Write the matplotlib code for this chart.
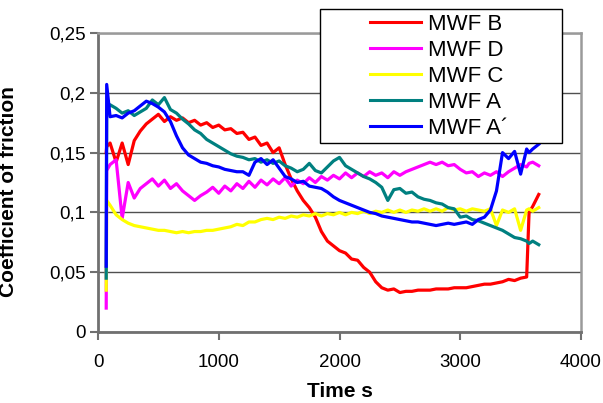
import matplotlib
matplotlib.use("Agg")
import matplotlib.pyplot as plt
from matplotlib.patches import Rectangle

plt.rcParams["font.family"] = ["Liberation Sans", "DejaVu Sans"]

# sample times (s)
time_s = [
    68, 72, 100, 150, 200, 250, 300, 350, 400, 450,
    500, 550, 600, 650, 700, 750, 800, 850, 900, 950,
    1000, 1050, 1100, 1150, 1200, 1250, 1300, 1350, 1400, 1450,
    1500, 1550, 1600, 1650, 1700, 1750, 1800, 1850, 1900, 1950,
    2000, 2050, 2100, 2150, 2200, 2250, 2300, 2350, 2400, 2450,
    2500, 2550, 2600, 2650, 2700, 2750, 2800, 2850, 2900, 2950,
    3000, 3050, 3100, 3150, 3200, 3250, 3300, 3350, 3400, 3450,
    3500, 3550, 3570, 3600, 3650,
]

mwf_b = [
    0.150, 0.155, 0.158, 0.142, 0.158, 0.140, 0.160, 0.168, 0.174, 0.178,
    0.182, 0.176, 0.180, 0.177, 0.179, 0.175, 0.177, 0.173, 0.175, 0.171,
    0.173, 0.169, 0.170, 0.166, 0.167, 0.161, 0.163, 0.156, 0.158, 0.150,
    0.154, 0.140, 0.128, 0.118, 0.110, 0.104, 0.096, 0.084, 0.076, 0.072,
    0.068, 0.066, 0.061, 0.060, 0.054, 0.050, 0.042, 0.037, 0.035, 0.036,
    0.033, 0.034, 0.034, 0.035, 0.035, 0.035, 0.036, 0.036, 0.036, 0.037,
    0.037, 0.037, 0.038, 0.039, 0.040, 0.040, 0.041, 0.042, 0.044, 0.043,
    0.045, 0.046, 0.100, 0.105, 0.115,
]

mwf_d = [
    0.020, 0.135, 0.140, 0.144, 0.095, 0.125, 0.112, 0.120, 0.124, 0.128,
    0.122, 0.127, 0.120, 0.124, 0.118, 0.114, 0.110, 0.114, 0.117, 0.121,
    0.116, 0.122, 0.118, 0.124, 0.120, 0.126, 0.121, 0.127, 0.123, 0.128,
    0.124, 0.129, 0.122, 0.127, 0.124, 0.129, 0.125, 0.130, 0.127, 0.131,
    0.128, 0.133, 0.129, 0.133, 0.130, 0.134, 0.131, 0.133, 0.129, 0.134,
    0.131, 0.134, 0.136, 0.138, 0.140, 0.142, 0.140, 0.142, 0.139, 0.140,
    0.136, 0.133, 0.134, 0.130, 0.133, 0.131, 0.134, 0.130, 0.134, 0.137,
    0.140, 0.138, 0.141, 0.142, 0.139,
]

mwf_c = [
    0.035, 0.110, 0.106, 0.098, 0.094, 0.091, 0.089, 0.088, 0.087, 0.086,
    0.085, 0.085, 0.084, 0.083, 0.084, 0.083, 0.084, 0.084, 0.085, 0.085,
    0.086, 0.087, 0.088, 0.090, 0.089, 0.092, 0.092, 0.094, 0.095, 0.094,
    0.096, 0.095, 0.097, 0.096, 0.098, 0.097, 0.099, 0.097, 0.099, 0.098,
    0.100, 0.098, 0.100, 0.099, 0.101, 0.099, 0.101, 0.100, 0.102, 0.100,
    0.102, 0.100, 0.102, 0.101, 0.103, 0.101, 0.103, 0.101, 0.104, 0.102,
    0.103, 0.101, 0.103, 0.102, 0.101, 0.103, 0.089, 0.102, 0.100, 0.103,
    0.085, 0.102, 0.103, 0.101, 0.104,
]

mwf_a = [
    0.045, 0.185, 0.190, 0.187, 0.183, 0.185, 0.181, 0.184, 0.187, 0.194,
    0.190, 0.196, 0.186, 0.183, 0.178, 0.174, 0.169, 0.166, 0.161, 0.158,
    0.155, 0.152, 0.149, 0.147, 0.146, 0.144, 0.145, 0.142, 0.144, 0.141,
    0.143, 0.139, 0.137, 0.134, 0.136, 0.141, 0.135, 0.133, 0.138, 0.143,
    0.146, 0.139, 0.136, 0.133, 0.130, 0.128, 0.125, 0.121, 0.110, 0.119,
    0.120, 0.116, 0.117, 0.113, 0.111, 0.110, 0.108, 0.107, 0.104, 0.103,
    0.096, 0.097, 0.094, 0.093, 0.091, 0.089, 0.087, 0.085, 0.082, 0.079,
    0.078, 0.076, 0.074, 0.076, 0.073,
]

mwf_a2 = [
    0.055, 0.207, 0.180, 0.181, 0.179, 0.183, 0.185, 0.189, 0.193, 0.191,
    0.188, 0.184, 0.176, 0.164, 0.154, 0.148, 0.145, 0.142, 0.141, 0.139,
    0.138, 0.136, 0.135, 0.134, 0.134, 0.131, 0.142, 0.145, 0.140, 0.144,
    0.137, 0.130, 0.128, 0.125, 0.126, 0.122, 0.121, 0.120, 0.117, 0.113,
    0.110, 0.108, 0.106, 0.104, 0.102, 0.100, 0.099, 0.097, 0.096, 0.095,
    0.094, 0.093, 0.092, 0.092, 0.091, 0.090, 0.089, 0.090, 0.091, 0.090,
    0.091, 0.092, 0.090, 0.094, 0.096, 0.102, 0.118, 0.150, 0.145, 0.151,
    0.132, 0.153, 0.150, 0.153, 0.157,
]

series_labels = ["MWF B", "MWF D", "MWF C", "MWF A", "MWF A\u00b4"]
series_colors = ["#ff0000", "#ff00ff", "#ffff00", "#008080", "#0000ff"]
y_ticks = [0, 0.05, 0.1, 0.15, 0.2, 0.25]
y_tick_labels = ["0", "0,05", "0,1", "0,15", "0,2", "0,25"]
x_ticks = [0, 1000, 2000, 3000, 4000]

fig = plt.figure(figsize=(6.03, 4.03), dpi=100)
ax = fig.add_axes([98 / 603, 1 - 332 / 403, 483 / 603, 299 / 403])

for values, label, color in zip(
    [mwf_b, mwf_d, mwf_c, mwf_a, mwf_a2], series_labels, series_colors
):
    ax.plot(time_s, values, color=color, lw=2.3, label=label, solid_joinstyle="round")

ax.set_xlim(0, 4000)
ax.set_ylim(0, 0.25)
ax.set_xticks(x_ticks)
ax.set_yticks(y_ticks)
ax.set_yticklabels(y_tick_labels)
ax.yaxis.grid(True, color="#505050", lw=1.0)
ax.set_axisbelow(True)

for side in ["left", "bottom"]:
    ax.spines[side].set_color("#707070")
    ax.spines[side].set_linewidth(2.0)
for side in ["top", "right"]:
    ax.spines[side].set_color("#9a9a9a")
    ax.spines[side].set_linewidth(1.8)

ax.tick_params(axis="y", direction="out", length=6, width=1.5, color="#707070",
               labelsize=13.5, pad=3)
ax.tick_params(axis="x", direction="out", length=6, width=1.5, color="#707070",
               labelsize=13.5, pad=10)

ax.set_xlabel("Time s", fontsize=15, fontweight="bold", labelpad=8)
ax.set_ylabel("Coefficient of friction", fontsize=15, fontweight="bold")
ax.yaxis.set_label_coords(-0.165, 0.47)

# legend frame sits over the plot area
frame = Rectangle((320 / 603, 1 - 143 / 403), 242 / 603, 134 / 403,
                  transform=fig.transFigure, facecolor="white",
                  edgecolor="black", lw=1.0, zorder=4, clip_on=False)
ax.add_patch(frame)
leg = ax.legend(loc="upper left", bbox_to_anchor=(370 / 603, 1 - 14 / 403),
                bbox_transform=fig.transFigure, frameon=False, fontsize=16,
                borderpad=0, borderaxespad=0, handlelength=2.3,
                handletextpad=0.3, labelspacing=0.22)
leg.set_zorder(5)
for line in leg.get_lines():
    line.set_linewidth(2.2)

fig.savefig("out.png", dpi=100)
